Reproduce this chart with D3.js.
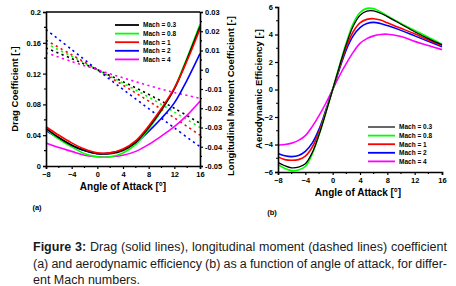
<!DOCTYPE html>
<html>
<head>
<meta charset="utf-8">
<script src="https://cdn.jsdelivr.net/npm/d3@7"></script>
<style>
  body { margin: 0; background: #fff; }
  svg { display: block; font-family: "Liberation Sans", Arial, sans-serif; }
  .tick text { font-weight: bold; }
</style>
</head>
<body>
<div id="chart"></div>
<script>
// Mach numbers and colours
const machLabels = ["Mach = 0.3", "Mach = 0.8", "Mach = 1", "Mach = 2", "Mach = 4"];
const machColors = ["#000000", "#00ff00", "#ff0000", "#0000ff", "#ff00ff"];

// (a) drag coefficient, solid lines
const dragAoa = [-8, -6, -4, -2, 0, 2, 4, 6, 8, 10, 12, 14, 16];
const dragM03 = [0.049, 0.037, 0.027, 0.020, 0.016, 0.016, 0.020, 0.031, 0.050, 0.073, 0.100, 0.139, 0.181];
const dragM08 = [0.048, 0.035, 0.025, 0.016, 0.012, 0.012, 0.017, 0.028, 0.048, 0.072, 0.101, 0.141, 0.184];
const dragM1  = [0.051, 0.040, 0.030, 0.022, 0.017, 0.017, 0.022, 0.033, 0.052, 0.075, 0.101, 0.137, 0.178];
const dragM2  = [0.046, 0.036, 0.027, 0.020, 0.016, 0.017, 0.021, 0.030, 0.045, 0.062, 0.082, 0.112, 0.146];
const dragM4  = [0.030, 0.024, 0.019, 0.014, 0.012, 0.012, 0.014, 0.019, 0.028, 0.039, 0.051, 0.066, 0.084];

// (a) longitudinal moment coefficient, dashed lines
const momAoa = [-8, -4, 0, 4, 8, 12, 16];
const momM03 = [0.0113, 0.0058, 0, -0.0062, -0.0128, -0.0200, -0.0278];
const momM08 = [0.0136, 0.0070, 0, -0.0070, -0.0142, -0.0220, -0.0300];
const momM1  = [0.0153, 0.0078, 0, -0.0080, -0.0163, -0.0250, -0.0340];
const momM2  = [0.0209, 0.0105, 0, -0.0102, -0.0202, -0.0302, -0.0400];
const momM4  = [0.0088, 0.0043, 0, -0.0042, -0.0082, -0.0118, -0.0148];

// (b) aerodynamic efficiency
const effAoa = [-8, -7, -6, -5, -4, -3, -2, -1, 0, 1, 2, 3, 4, 5, 6, 7, 8, 10, 12, 14, 16];
const effM03 = [-5.3, -5.55, -5.7, -5.65, -5.4, -4.6, -3.3, -1.7, 0, 1.7, 3.3, 4.6, 5.4, 5.7, 5.72, 5.55, 5.3, 4.75, 4.2, 3.7, 3.25];
const effM08 = [-5.45, -5.75, -5.9, -5.85, -5.6, -4.7, -3.3, -1.7, 0, 1.75, 3.4, 4.8, 5.6, 5.9, 5.88, 5.65, 5.35, 4.8, 4.3, 3.8, 3.3];
const effM1  = [-4.9, -5.1, -5.15, -5.1, -4.85, -4.2, -3.1, -1.6, 0, 1.6, 3.1, 4.2, 4.85, 5.1, 5.15, 5.05, 4.85, 4.45, 4.05, 3.6, 3.2];
const effM2  = [-4.65, -4.82, -4.88, -4.8, -4.5, -3.9, -2.9, -1.5, 0, 1.5, 2.9, 3.9, 4.5, 4.8, 4.88, 4.8, 4.65, 4.3, 3.9, 3.5, 3.1];
const effM4  = [-4.05, -4.0, -3.9, -3.7, -3.35, -2.7, -1.9, -1.0, 0, 1.0, 1.9, 2.7, 3.35, 3.7, 3.9, 4.0, 4.02, 3.85, 3.5, 3.2, 2.9];

// tick labels
const aoaTicks = [-8, -4, 0, 4, 8, 12, 16];
const dragTicks = [0, 0.04, 0.08, 0.12, 0.16, 0.2];
const momTicks = [-0.05, -0.04, -0.03, -0.02, -0.01, 0, 0.01, 0.02, 0.03];
const effTicks = [-6, -4, -2, 0, 2, 4, 6];

const captionLines = [
  [{ t: "Figure 3:", b: true }, { t: " Drag (solid lines), longitudinal moment (dashed lines) coefficient" }],
  [{ t: "(a) and aerodynamic efficiency (b) as a function of angle of attack, for differ-" }],
  [{ t: "ent Mach numbers." }]
];

const W = 456, H = 286;
const svg = d3.select("#chart").append("svg").attr("width", W).attr("height", H);
svg.append("rect").attr("width", W).attr("height", H).attr("fill", "#fff");

const line = (x, y) => d3.line().x(d => x(d[0])).y(d => y(d[1])).curve(d3.curveCatmullRom.alpha(0.5));

function styleAxis(g, fs) {
  g.selectAll(".domain").attr("stroke-width", 1.6);
  g.selectAll(".tick line").attr("stroke-width", 1.2);
  g.selectAll(".tick text").style("font-size", fs + "px");
}

function minorTicks(g, scale, values, orient, len) {
  values.forEach(v => {
    const p = scale(v);
    const l = g.append("line").attr("stroke", "#000").attr("stroke-width", 1.2);
    if (orient === "bottom") l.attr("x1", p).attr("x2", p).attr("y1", 0).attr("y2", len);
    if (orient === "left") l.attr("y1", p).attr("y2", p).attr("x1", 0).attr("x2", -len);
    if (orient === "right") l.attr("y1", p).attr("y2", p).attr("x1", 0).attr("x2", len);
  });
}

const numFmt = d => d === 0 ? "0" : String(+d.toFixed(2));

// ---------- panel (a) ----------
const xA = d3.scaleLinear().domain([-8, 16]).range([46, 200]);
const yA = d3.scaleLinear().domain([0, 0.2]).range([166, 12]);
const yM = d3.scaleLinear().domain([-0.05, 0.03]).range([166, 12]);

const gA = svg.append("g");
const dragSeries = [dragM03, dragM08, dragM1, dragM2, dragM4];
const momSeries = [momM03, momM08, momM1, momM2, momM4];

momSeries.forEach((s, i) => {
  gA.append("path").datum(momAoa.map((a, j) => [a, s[j]]))
    .attr("d", line(xA, yM)).attr("fill", "none")
    .attr("stroke", machColors[i]).attr("stroke-width", 1.6)
    .attr("stroke-dasharray", "2.2,3.4");
});
// draw order so black/red end on top like the reference
[3, 4, 1, 0, 2].forEach(i => {
  gA.append("path").datum(dragAoa.map((a, j) => [a, dragSeries[i][j]]))
    .attr("d", line(xA, yA)).attr("fill", "none")
    .attr("stroke", machColors[i]).attr("stroke-width", 1.6);
});

// top frame line
gA.append("line").attr("x1", 46).attr("x2", 200).attr("y1", 12).attr("y2", 12)
  .attr("stroke", "#000").attr("stroke-width", 1.6);

const axBA = gA.append("g").attr("transform", "translate(0,166)")
  .call(d3.axisBottom(xA).tickValues(aoaTicks).tickSize(3).tickPadding(3).tickFormat(d3.format("d")));
styleAxis(axBA, 7.5);
minorTicks(axBA, xA, [-6, -2, 2, 6, 10, 14], "bottom", 2);

const axLA = gA.append("g").attr("transform", "translate(46,0)")
  .call(d3.axisLeft(yA).tickValues(dragTicks).tickSize(3).tickPadding(2).tickFormat(numFmt));
styleAxis(axLA, 7.5);
minorTicks(axLA, yA, [0.02, 0.06, 0.1, 0.14, 0.18], "left", 2);

const axRA = gA.append("g").attr("transform", "translate(200,0)")
  .call(d3.axisRight(yM).tickValues(momTicks).tickSize(3).tickPadding(2).tickFormat(numFmt));
styleAxis(axRA, 7.5);
minorTicks(axRA, yM, [-0.045, -0.035, -0.025, -0.015, -0.005, 0.005, 0.015, 0.025], "right", 2);

gA.append("text").attr("x", 123).attr("y", 190).attr("text-anchor", "middle")
  .style("font-size", "10px").style("font-weight", "bold").text("Angle of Attack [°]");
gA.append("text").attr("transform", "translate(18,89) rotate(-90)").attr("text-anchor", "middle")
  .style("font-size", "9.5px").style("font-weight", "bold").text("Drag Coefficient [-]");
gA.append("text").attr("transform", "translate(234,96) rotate(-90)").attr("text-anchor", "middle")
  .style("font-size", "9.5px").style("font-weight", "bold").text("Longitudinal Moment Coefficient [-]");
gA.append("text").attr("x", 37).attr("y", 210).attr("text-anchor", "middle")
  .style("font-size", "7.5px").style("font-weight", "bold").text("(a)");

// legend (a)
machLabels.forEach((m, i) => {
  const y = 25 + i * 8.6;
  gA.append("line").attr("x1", 115).attr("x2", 139).attr("y1", y).attr("y2", y)
    .attr("stroke", machColors[i]).attr("stroke-width", 1.8);
  gA.append("text").attr("x", 143).attr("y", y + 2.3)
    .style("font-size", "6.5px").style("font-weight", "bold").text(m);
});

// ---------- panel (b) ----------
const xB = d3.scaleLinear().domain([-8, 16]).range([278, 442]);
const yB = d3.scaleLinear().domain([-6, 6]).range([172, 7]);
const gB = svg.append("g");
const effSeries = [effM03, effM08, effM1, effM2, effM4];

[4, 3, 2, 1, 0].forEach(i => {
  gB.append("path").datum(effAoa.map((a, j) => [a, effSeries[i][j]]))
    .attr("d", line(xB, yB)).attr("fill", "none")
    .attr("stroke", machColors[i]).attr("stroke-width", i === 0 ? 1.2 : 1.6);
});

const axBB = gB.append("g").attr("transform", "translate(0,172)")
  .call(d3.axisBottom(xB).tickValues(aoaTicks).tickSize(3).tickPadding(3).tickFormat(d3.format("d")));
styleAxis(axBB, 7.5);
minorTicks(axBB, xB, [-6, -2, 2, 6, 10, 14], "bottom", 2);

const axLB = gB.append("g").attr("transform", "translate(278,0)")
  .call(d3.axisLeft(yB).tickValues(effTicks).tickSize(3).tickPadding(2));
styleAxis(axLB, 7.5);
minorTicks(axLB, yB, [-5, -3, -1, 1, 3, 5], "left", 2);

gB.append("text").attr("x", 358).attr("y", 196).attr("text-anchor", "middle")
  .style("font-size", "10px").style("font-weight", "bold").text("Angle of Attack [°]");
gB.append("text").attr("transform", "translate(262,89) rotate(-90)").attr("text-anchor", "middle")
  .style("font-size", "9.5px").style("font-weight", "bold").text("Aerodynamic Efficiency [-]");
gB.append("text").attr("x", 272).attr("y", 215).attr("text-anchor", "middle")
  .style("font-size", "7.5px").style("font-weight", "bold").text("(b)");

machLabels.forEach((m, i) => {
  const y = 127 + i * 8.6;
  gB.append("line").attr("x1", 368).attr("x2", 395).attr("y1", y).attr("y2", y)
    .attr("stroke", machColors[i]).attr("stroke-width", i === 0 ? 1.2 : 1.8);
  gB.append("text").attr("x", 399).attr("y", y + 2.3)
    .style("font-size", "6.5px").style("font-weight", "bold").text(m);
});

// ---------- caption ----------
const capX0 = 33, capX1 = 447, capBase = [251, 267.5, 284];
captionLines.forEach((parts, i) => {
  const t = svg.append("text").attr("x", capX0).attr("y", capBase[i])
    .style("font-size", "12.5px").attr("fill", "#1a1a1a");
  parts.forEach(p => t.append("tspan").style("font-weight", p.b ? "bold" : "normal").text(p.t));
  if (i < captionLines.length - 1) {
    const full = parts.map(p => p.t).join("");
    const spaces = (full.match(/ /g) || []).length;
    const natural = t.node().getComputedTextLength();
    t.attr("word-spacing", ((capX1 - capX0) - natural) / spaces);
  }
});
</script>
</body>
</html>
